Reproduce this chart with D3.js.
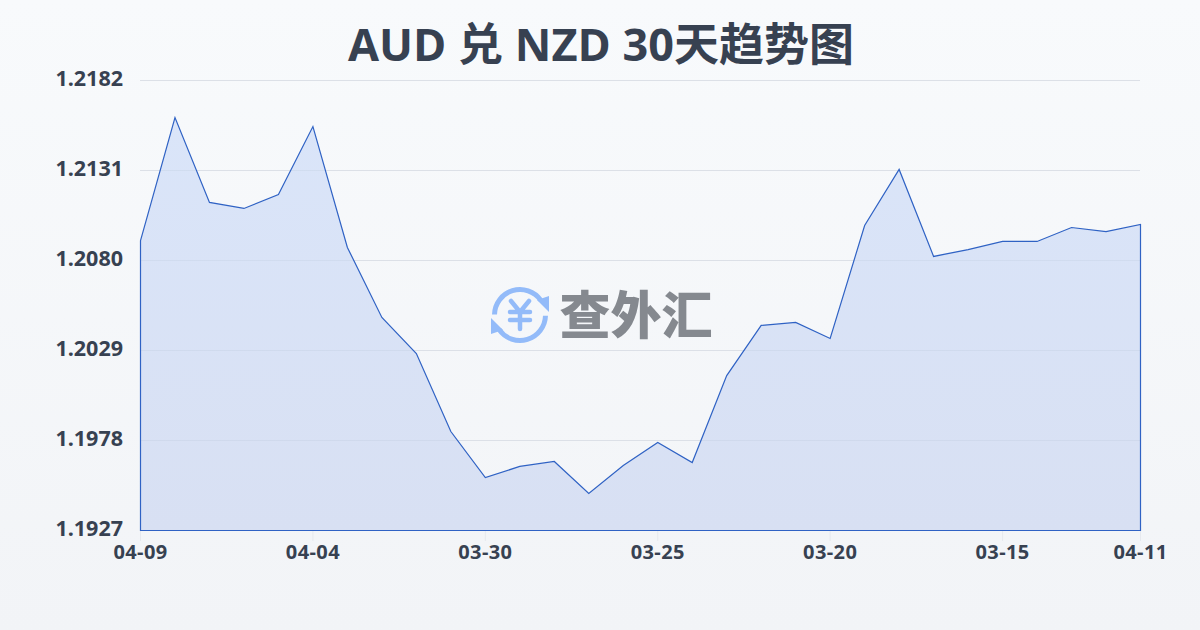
<!DOCTYPE html>
<html><head><meta charset="utf-8">
<script src="https://cdnjs.cloudflare.com/ajax/libs/d3/7.8.5/d3.min.js"></script>
<style>html,body{margin:0;padding:0;background:#f8fafc}svg{display:block}</style>
</head><body><svg id="c" width="1200" height="630"></svg>
<script>
const titleText = "AUD 兑 NZD 30天趋势图";
const watermarkText = "查外汇";
const dates = ["04-09","04-08","04-07","04-06","04-05","04-04","04-03","04-02","04-01","03-31","03-30","03-29","03-28","03-27","03-26","03-25","03-24","03-23","03-22","03-21","03-20","03-19","03-18","03-17","03-16","03-15","03-14","03-13","03-12","04-11"];
const rates = [1.20913,1.21610,1.21129,1.21095,1.21174,1.21559,1.20874,1.20477,1.20273,1.19831,1.19570,1.19633,1.19661,1.19480,1.19638,1.19769,1.19655,1.20148,1.20432,1.20449,1.20358,1.20998,1.21316,1.20823,1.20862,1.20908,1.20908,1.20987,1.20964,1.21004];
const xTickLabels = ["04-09","04-04","03-30","03-25","03-20","03-15","04-11"];
const xTickIndex = [0,5,10,15,20,25,29];
const yTicks = [1.1927,1.1978,1.2029,1.2080,1.2131,1.2182];

const font = '"Open Sans","Noto Sans CJK SC",sans-serif';
const svg = d3.select("#c");
const defs = svg.append("defs");
const bg = defs.append("linearGradient").attr("id","bg").attr("x1",0).attr("y1",0).attr("x2",0).attr("y2",1);
bg.append("stop").attr("offset",0).attr("stop-color","#f8fafc");
bg.append("stop").attr("offset",1).attr("stop-color","#f2f4f7");
const af = defs.append("linearGradient").attr("id","af").attr("x1",0).attr("y1",0).attr("x2",0).attr("y2",1);
af.append("stop").attr("offset",0).attr("stop-color","#dae5f9");
af.append("stop").attr("offset",1).attr("stop-color","#d8e0f3");
svg.append("rect").attr("width",1200).attr("height",630).attr("fill","url(#bg)");

const x = d3.scalePoint().domain(d3.range(dates.length)).range([140.5,1140.5]);
const y = d3.scaleLinear().domain([1.1927,1.2182]).range([530.5,80.5]);

svg.append("text").attr("x",601).attr("y",61).attr("text-anchor","middle")
  .attr("font-family",font).attr("font-weight",700).attr("font-size",45).attr("fill","#374151").text(titleText);

// grid
svg.append("g").selectAll("line").data(yTicks.slice(1)).join("line")
  .attr("x1",140).attr("x2",1140).attr("y1",d=>y(d)).attr("y2",d=>y(d))
  .attr("stroke","#e6e9ee").attr("stroke-width",1);

// area
const area = d3.area().x((d,i)=>x(i)).y0(530.5).y1(d=>y(d));
svg.append("path").datum(rates).attr("d",area).attr("fill","url(#af)").attr("stroke","none");

// grid through the area (faint)
svg.append("g").selectAll("line").data(yTicks.slice(1)).join("line")
  .attr("x1",140).attr("x2",1140).attr("y1",d=>y(d)).attr("y2",d=>y(d))
  .attr("stroke","#94a3b8").attr("stroke-opacity",0.12).attr("stroke-width",1);

svg.append("path").datum(rates).attr("d",area).attr("fill","none").attr("stroke","#2f62c4").attr("stroke-width",1.2);

// watermark
const wm = svg.append("g").attr("transform","translate(520,315)");
const blue = "#93bbf9";
const arc = d3.arc();
wm.append("path").attr("d",arc({innerRadius:25.5,outerRadius:25.5,startAngle:-1.55,endAngle:0.95}))
  .attr("fill","none").attr("stroke",blue).attr("stroke-width",5).attr("stroke-linecap","round");
wm.append("path").attr("d",arc({innerRadius:25.5,outerRadius:25.5,startAngle:1.6,endAngle:4.1}))
  .attr("fill","none").attr("stroke",blue).attr("stroke-width",5).attr("stroke-linecap","round");
wm.append("path").attr("d",d3.line()([[17,-15],[29,-19],[29,-3]])+"Z").attr("fill",blue);
wm.append("path").attr("d",d3.line()([[-29,3],[-29,19],[-17,15]])+"Z").attr("fill",blue);
wm.append("path").attr("d","M-9,-14L0,-3L9,-14M-10,-3H10M-10,5H10M0,-3V14")
  .attr("fill","none").attr("stroke",blue).attr("stroke-width",4.5).attr("stroke-linecap","round").attr("stroke-linejoin","round");
svg.append("text").attr("x",636).attr("y",334).attr("text-anchor","middle")
  .attr("font-family",'"Noto Sans CJK SC",sans-serif').attr("font-weight",900).attr("font-size",51)
  .attr("fill","#85898f").text(watermarkText);

// y labels
svg.append("g").selectAll("text").data(yTicks).join("text")
  .attr("x",123).attr("y",d=>y(d)+5.5).attr("text-anchor","end")
  .attr("font-family",font).attr("font-weight",700).attr("font-size",21.5).attr("fill","#374151")
  .text(d=>d.toFixed(4));

// x ticks
svg.append("g").selectAll("line").data(xTickIndex).join("line")
  .attr("x1",d=>x(d)).attr("x2",d=>x(d)).attr("y1",531).attr("y2",541)
  .attr("stroke","#e6e9ee");
svg.append("g").selectAll("text").data(xTickIndex).join("text")
  .attr("x",d=>x(d)).attr("y",559).attr("text-anchor","middle")
  .attr("font-family",font).attr("font-weight",700).attr("font-size",20).attr("letter-spacing",0.4).attr("fill","#374151")
  .text((d,i)=>xTickLabels[i]);
</script></body></html>
